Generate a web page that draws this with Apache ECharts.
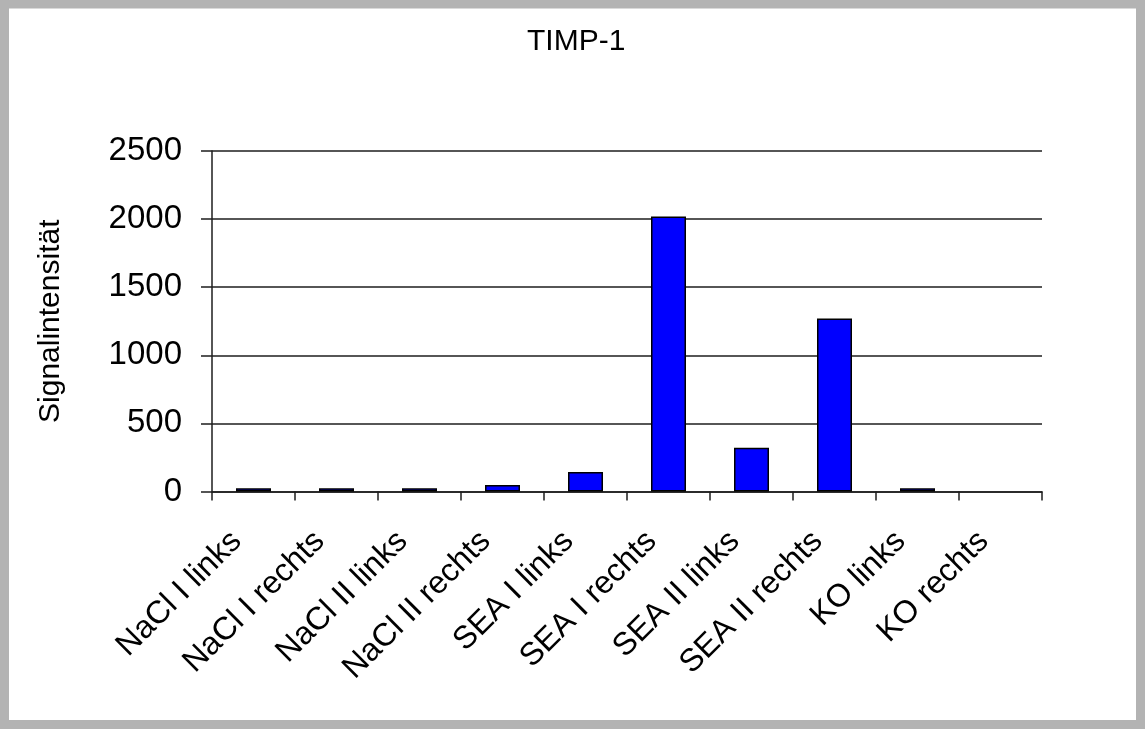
<!DOCTYPE html>
<html>
<head>
<meta charset="utf-8">
<title>TIMP-1</title>
<script src="https://cdn.jsdelivr.net/npm/echarts@6/dist/echarts.min.js"></script>
<style>
  html, body { margin: 0; padding: 0; background: #ffffff; }
  #chart { width: 1145px; height: 729px; }
</style>
</head>
<body>
<div id="chart"></div>
<script>
// Sample groups along the x axis
const categories = [
  'NaCl I links', 'NaCl I rechts', 'NaCl II links', 'NaCl II rechts',
  'SEA I links', 'SEA I rechts', 'SEA II links', 'SEA II rechts',
  'KO links', 'KO rechts'
];
// Signal intensity per group
const signal = [23, 23, 23, 48, 143, 2020, 321, 1271, 23, 0];
// Value axis range
const yMin = 0;
const yMax = 2500;
const yStep = 500;

const FONT = "'Liberation Sans', Arial, sans-serif";
const LINE = '#1e1e1e';

const chart = echarts.init(document.getElementById('chart'), null, { renderer: 'canvas' });

chart.setOption({
  backgroundColor: '#ffffff',
  animation: false,
  title: {
    text: 'TIMP-1',
    left: 527,
    top: 27,
    padding: 0,
    textStyle: { fontFamily: FONT, fontSize: 30, fontWeight: 'normal', color: '#000' }
  },
  graphic: [{
    type: 'rect',
    silent: true,
    shape: { x: 4.5, y: 4, width: 1136, height: 720.5 },
    style: { fill: 'none', stroke: '#b3b3b3', lineWidth: 9 }
  }],
  grid: { left: 212, right: 103, top: 151, bottom: 237.5, containLabel: false },
  xAxis: {
    type: 'category',
    data: categories,
    boundaryGap: true,
    axisLine: { show: true, lineStyle: { color: LINE, width: 1.5 } },
    axisTick: { show: true, length: 9, lineStyle: { color: LINE, width: 1.5 } },
    axisLabel: {
      interval: 0,
      rotate: 45,
      margin: 28,
      padding: [0, 24, 0, 0],
      fontFamily: FONT,
      fontSize: 32,
      color: '#000'
    },
    splitLine: { show: false }
  },
  yAxis: {
    type: 'value',
    min: yMin,
    max: yMax,
    interval: yStep,
    name: 'Signalintensität',
    nameLocation: 'middle',
    nameRotate: 90,
    nameGap: 146,
    nameTextStyle: { fontFamily: FONT, fontSize: 30, color: '#000' },
    axisLine: { show: true, lineStyle: { color: LINE, width: 1.5 } },
    axisTick: { show: true, length: 11, lineStyle: { color: LINE, width: 1.5 } },
    axisLabel: {
      margin: 30,
      fontFamily: FONT,
      fontSize: 33,
      color: '#000',
      formatter: (v) => String(v)
    },
    splitLine: { show: true, lineStyle: { color: LINE, width: 1.5 } }
  },
  series: [{
    type: 'bar',
    // empty groups get no outline, so nothing is drawn on the axis
    data: signal.map((v) => (v === 0 ? { value: v, itemStyle: { borderWidth: 0 } } : v)),
    barWidth: 35,
    itemStyle: { color: '#0000ff', borderColor: '#000', borderWidth: 1.5 }
  }]
});
</script>
</body>
</html>
